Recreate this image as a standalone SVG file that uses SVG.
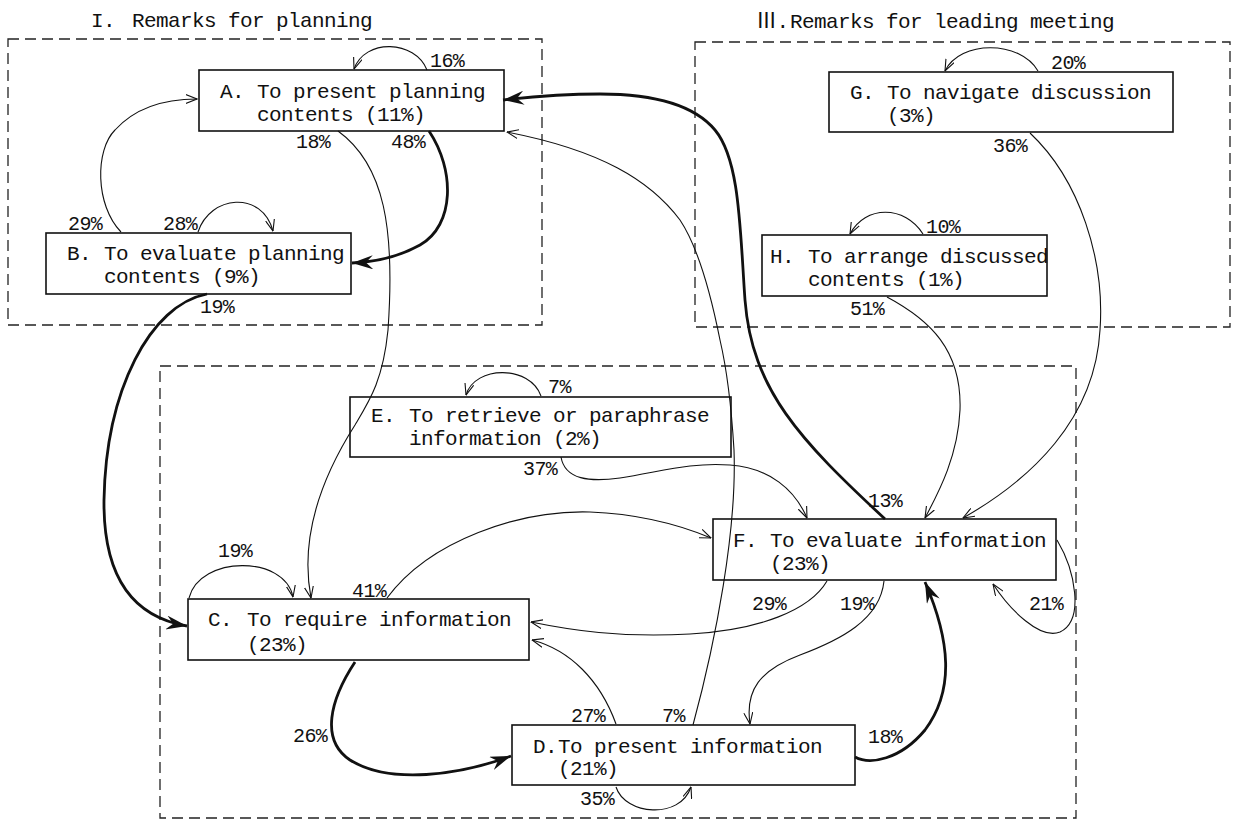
<svg xmlns="http://www.w3.org/2000/svg" width="1236" height="821" viewBox="0 0 1236 821">
<style>
  text { font-family: "Liberation Mono", "DejaVu Sans Mono", "Noto Sans CJK JP", monospace; fill: #111; }
  .t { font-size: 21px; letter-spacing: -0.6px; }
  .p { font-size: 20px; letter-spacing: -0.6px; }
  .frame { fill: none; stroke: #222; stroke-width: 1.3; stroke-dasharray: 11 6; }
  .box { fill: none; stroke: #111; stroke-width: 1.6; }
  .thin { fill: none; stroke: #111; stroke-width: 1.1; marker-end: url(#open); }
  .bold { fill: none; stroke: #111; stroke-width: 2.8; marker-end: url(#solid); }
</style>
<defs>
  <marker id="open" markerUnits="userSpaceOnUse" viewBox="0 0 12 10" refX="11.5" refY="5" markerWidth="12" markerHeight="10" orient="auto">
    <path d="M0,0.5 L11.5,5 L0,9.5" fill="none" stroke="#111" stroke-width="1.1"/>
  </marker>
  <marker id="solid" markerUnits="userSpaceOnUse" viewBox="0 0 22 14" refX="21" refY="7" markerWidth="22" markerHeight="14" orient="auto">
    <path d="M0,0 L21,7 L0,14 L7,7 Z" fill="#111"/>
  </marker>
</defs>
<rect width="1236" height="821" fill="#fff"/>

<g id="frames">
  <rect class="frame" x="8" y="39" width="534" height="286"/>
  <rect class="frame" x="695" y="42" width="535" height="285"/>
  <rect class="frame" x="160" y="366" width="916" height="452"/>
  <text class="t" x="91" y="27">I.<tspan x="132">Remarks for planning</tspan></text>
  <text class="t" x="756" y="28">Ⅲ.<tspan x="790">Remarks for leading meeting</tspan></text>
</g>

<g id="connectors">
  <!-- self loops -->
  <path class="thin" d="M427,70 C415,40 365,38 354,69"/>
  <path class="thin" d="M198,232 C210,195 262,190 273,231"/>
  <path class="thin" d="M189,598 C200,555 285,555 293,597"/>
  <path class="thin" d="M541,396 C530,365 475,365 466,395"/>
  <path class="thin" d="M616,787 C625,815 680,820 691,787"/>
  <path class="thin" d="M1057,540 C1075,570 1085,620 1060,632 C1040,640 1010,610 993,584"/>
  <path class="thin" d="M1038,71 C1020,40 960,40 945,71"/>
  <path class="thin" d="M923,234 C905,205 865,205 850,234"/>
  <!-- transitions -->
  <path class="thin" d="M121,232 C95,205 95,150 115,130 C135,108 165,99 197,99"/>
  <path class="bold" d="M429,131 C455,170 455,225 420,245 C400,256 380,262 352,263"/>
  <path class="thin" d="M338,131 C385,165 395,230 388,330 C383,380 370,400 355,425 C320,480 300,540 311,598"/>
  <path class="bold" d="M207,294 C150,305 106,390 104,500 C103,585 140,618 187,626"/>
  <path class="bold" d="M885,519 C800,440 752,390 745,300 C740,230 740,160 715,130 C690,100 640,94 600,94 C560,94 530,97 503,100"/>
  <path class="thin" d="M693,725 C716,640 737,530 734,450 C731,400 727,370 720,340 C712,300 700,250 680,220 C650,180 600,150 507,132"/>
  <path class="thin" d="M387,598 C430,540 520,510 590,512 C640,514 680,525 711,538"/>
  <path class="thin" d="M827,581 C810,610 760,630 690,634 C620,638 570,630 531,622"/>
  <path class="thin" d="M616,724 C600,680 570,650 532,640"/>
  <path class="bold" d="M355,662 C330,700 320,740 350,760 C390,785 460,775 511,756"/>
  <path class="thin" d="M884,581 C880,620 840,640 800,655 C760,670 745,690 750,724"/>
  <path class="bold" d="M855,757 C870,765 900,760 925,730 C955,690 950,640 925,582"/>
  <path class="thin" d="M561,457 C565,480 590,482 620,478 C660,472 690,462 730,465 C770,468 795,490 807,518"/>
  <path class="thin" d="M1030,133 C1080,180 1105,260 1100,330 C1095,420 1030,480 963,518"/>
  <path class="thin" d="M887,297 C930,320 962,350 960,410 C958,455 940,490 925,518"/>
</g>

<g id="edge-labels">
  <text class="p" x="430" y="67">16%</text>
  <text class="p" x="296" y="148">18%</text>
  <text class="p" x="391" y="148">48%</text>
  <text class="p" x="68" y="230">29%</text>
  <text class="p" x="163" y="230">28%</text>
  <text class="p" x="200" y="313">19%</text>
  <text class="p" x="1051" y="69">20%</text>
  <text class="p" x="993" y="152">36%</text>
  <text class="p" x="926" y="233">10%</text>
  <text class="p" x="850" y="315">51%</text>
  <text class="p" x="548" y="393">7%</text>
  <text class="p" x="523" y="475">37%</text>
  <text class="p" x="218" y="557">19%</text>
  <text class="p" x="352" y="597">41%</text>
  <text class="p" x="868" y="507">13%</text>
  <text class="p" x="752" y="610">29%</text>
  <text class="p" x="840" y="610">19%</text>
  <text class="p" x="1029" y="610">21%</text>
  <text class="p" x="571" y="722">27%</text>
  <text class="p" x="662" y="722">7%</text>
  <text class="p" x="293" y="742">26%</text>
  <text class="p" x="868" y="743">18%</text>
  <text class="p" x="580" y="805">35%</text>
</g>

<g id="node-A">
  <rect class="box" x="199" y="70" width="305" height="61"/>
  <text class="t" x="220" y="98">A.<tspan x="257">To present planning</tspan></text>
  <text class="t" x="257" y="121">contents (11%)</text>
</g>
<g id="node-B">
  <rect class="box" x="46" y="233" width="305" height="61"/>
  <text class="t" x="67" y="260">B.<tspan x="104">To evaluate planning</tspan></text>
  <text class="t" x="104" y="283">contents (9%)</text>
</g>
<g id="node-G">
  <rect class="box" x="829" y="72" width="344" height="60"/>
  <text class="t" x="850" y="99">G.<tspan x="887">To navigate discussion</tspan></text>
  <text class="t" x="887" y="122">(3%)</text>
</g>
<g id="node-H">
  <rect class="box" x="762" y="235" width="285" height="61"/>
  <text class="t" x="770" y="263">H.<tspan x="808">To arrange discussed</tspan></text>
  <text class="t" x="808" y="286">contents (1%)</text>
</g>
<g id="node-E">
  <rect class="box" x="350" y="397" width="381" height="60"/>
  <text class="t" x="371" y="422">E.<tspan x="409">To retrieve or paraphrase</tspan></text>
  <text class="t" x="409" y="445">information (2%)</text>
</g>
<g id="node-F">
  <rect class="box" x="713" y="519" width="343" height="61"/>
  <text class="t" x="733" y="547">F.<tspan x="770">To evaluate information</tspan></text>
  <text class="t" x="770" y="570">(23%)</text>
</g>
<g id="node-C">
  <rect class="box" x="188" y="599" width="341" height="61"/>
  <text class="t" x="208" y="626">C.<tspan x="247">To require information</tspan></text>
  <text class="t" x="247" y="651">(23%)</text>
</g>
<g id="node-D">
  <rect class="box" x="512" y="725" width="343" height="60"/>
  <text class="t" x="533" y="753">D.<tspan x="558">To present information</tspan></text>
  <text class="t" x="558" y="775">(21%)</text>
</g>
</svg>
